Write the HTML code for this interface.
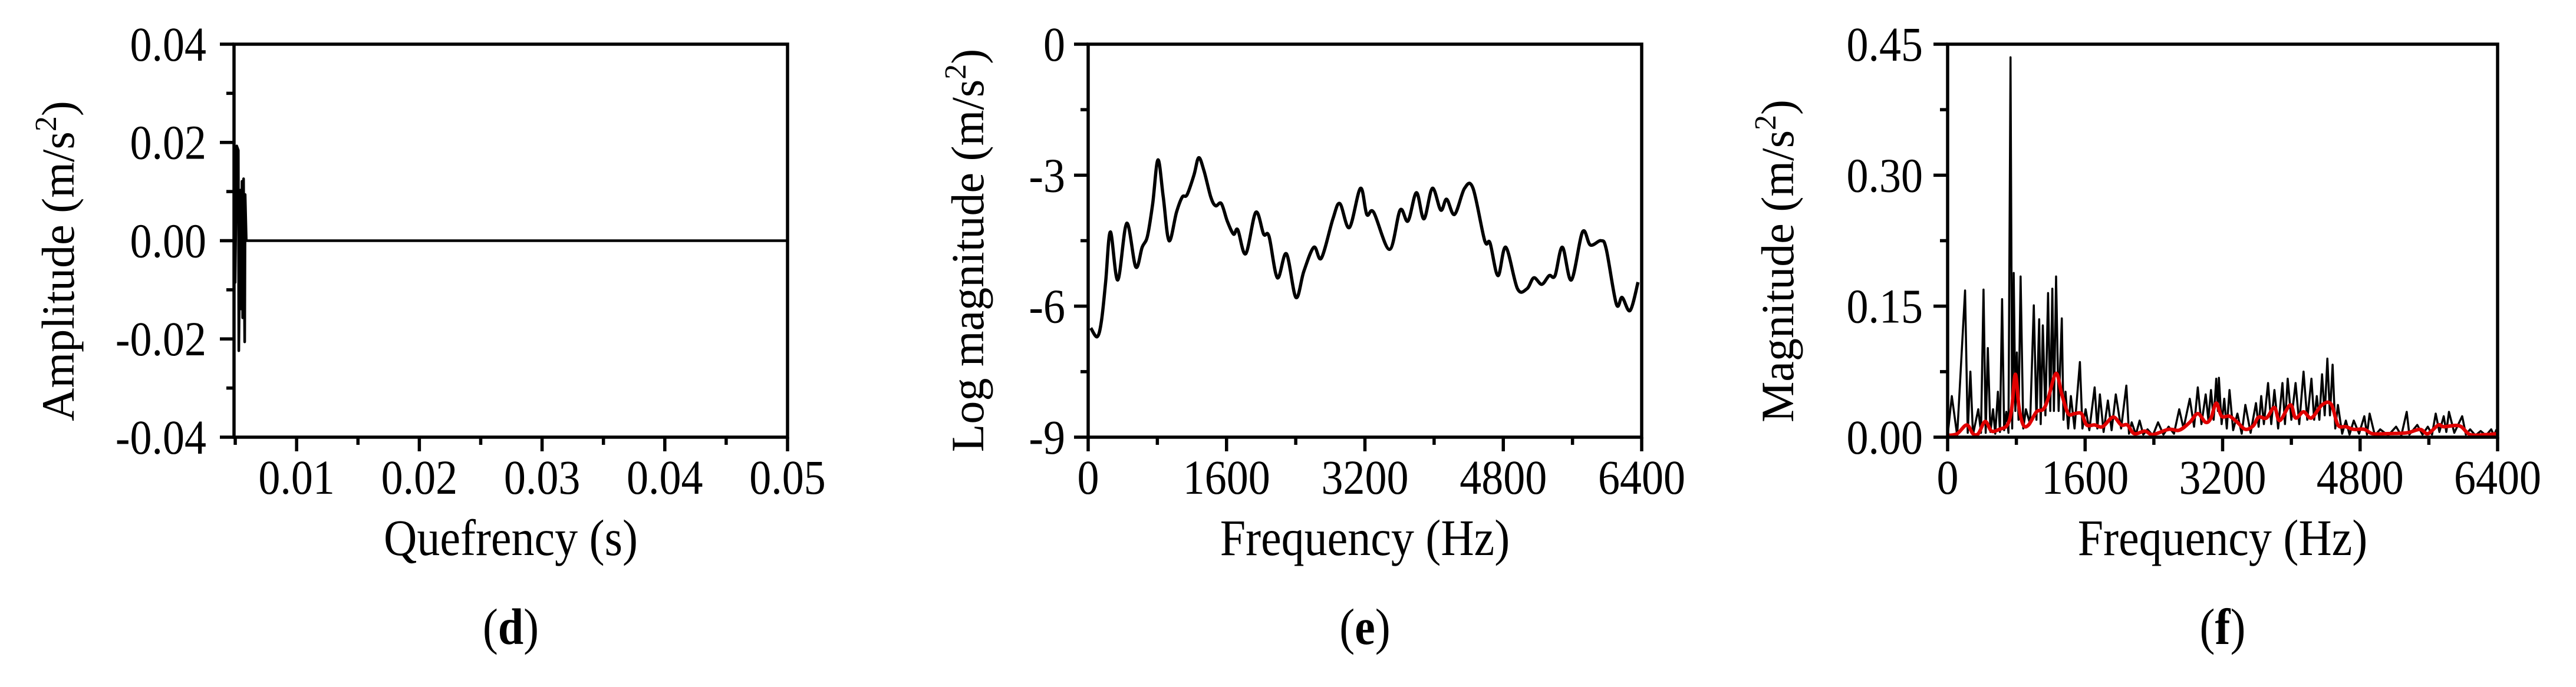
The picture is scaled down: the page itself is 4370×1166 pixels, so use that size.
<!DOCTYPE html>
<html><head><meta charset="utf-8"><style>
html,body{margin:0;padding:0;background:#fff;}
svg{display:block;}
text{font-family:"Liberation Serif",serif;fill:#000;}
</style></head><body>
<svg id="fig" width="4370" height="1166" viewBox="0 0 4370 1166" xmlns="http://www.w3.org/2000/svg"></svg>
<script>
// ---- Panel d data (quefrency s, amplitude) ----
const dQuef = [0.0049,0.00494,0.00499,0.00512,0.00525,0.00529,0.00542,0.00547,0.00555,0.0056,0.00568,0.00577,0.00581,0.0059,0.05];
const dAmp  = [0,0.0148,-0.0085,0.0193,0.0184,-0.0224,0.0103,-0.0139,0.0121,-0.0157,0.0126,-0.0206,0.0094,0,0];
const dXTicks = [0.01,0.02,0.03,0.04,0.05];
const dXTickLabels = ["0.01","0.02","0.03","0.04","0.05"];
const dYTicks = [0.04,0.02,0,-0.02,-0.04];
const dYTickLabels = ["0.04","0.02","0.00","-0.02","-0.04"];
// ---- Panel e data (Hz, log magnitude) ----
const eFreq = [31,104,153,202,257,342,446,550,624,685,746,807,868,935,1021,1088,1143,1223,1278,1339,1418,1473,1540,1608,1681,1730,1822,1938,2029,2091,2188,2292,2402,2494,2610,2696,2830,2910,3020,3148,3222,3301,3484,3607,3698,3796,3882,3980,4077,4145,4236,4352,4450,4585,4646,4738,4829,4964,5074,5153,5245,5330,5398,5483,5587,5716,5807,5930,5991,6107,6174,6266,6358];
const eLog = [-6.5,-6.7,-6.35,-5.45,-4.3,-5.4,-4.1,-5.1,-4.65,-4.4,-3.65,-2.65,-3.5,-4.5,-3.85,-3.5,-3.45,-3.0,-2.6,-2.9,-3.5,-3.7,-3.65,-4.05,-4.35,-4.25,-4.8,-3.85,-4.35,-4.4,-5.35,-4.8,-5.8,-5.2,-4.65,-4.9,-4.0,-3.65,-4.2,-3.3,-3.9,-3.85,-4.7,-3.8,-4.05,-3.4,-4.0,-3.3,-3.8,-3.55,-3.9,-3.3,-3.3,-4.5,-4.55,-5.3,-4.65,-5.6,-5.6,-5.35,-5.5,-5.3,-5.3,-4.65,-5.4,-4.3,-4.6,-4.5,-4.7,-5.95,-5.8,-6.1,-5.45];
const eXTicks = [0,1600,3200,4800,6400];
const eXTickLabels = ["0","1600","3200","4800","6400"];
const eYTicks = [0,-3,-6,-9];
const eYTickLabels = ["0","-3","-6","-9"];
// ---- Panel f data (Hz, magnitude) ----
const fFreq = [0,49,111,203,234,265,295,357,388,418,443,468,498,529,554,585,609,634,658,683,708,732,751,769,788,806,825,849,880,911,960,1003,1034,1065,1083,1108,1138,1169,1194,1218,1237,1262,1292,1329,1348,1372,1403,1434,1477,1539,1569,1606,1649,1711,1742,1772,1815,1865,1908,1957,2019,2080,2111,2142,2191,2234,2277,2326,2388,2449,2511,2572,2634,2695,2745,2818,2868,2911,2954,3003,3034,3065,3096,3126,3145,3157,3188,3219,3249,3280,3323,3372,3422,3465,3526,3588,3619,3649,3680,3729,3766,3803,3846,3896,3926,3957,4000,4049,4092,4142,4185,4234,4265,4296,4326,4357,4388,4419,4449,4480,4511,4542,4591,4634,4677,4726,4788,4849,4880,4911,4972,5034,5126,5219,5280,5342,5373,5465,5526,5588,5637,5680,5723,5773,5803,5834,5896,5988,6031,6080,6142,6203,6265,6326,6357,6388];
const fMag = [0.002,0.047,0.002,0.168,0.005,0.075,0.003,0.032,0.005,0.169,0.005,0.102,0.006,0.032,0.004,0.052,0.006,0.158,0.008,0.029,0.005,0.435,0.01,0.188,0.03,0.097,0.02,0.184,0.01,0.032,0.015,0.151,0.02,0.135,0.015,0.128,0.025,0.165,0.03,0.17,0.03,0.184,0.03,0.136,0.02,0.052,0.01,0.047,0.01,0.086,0.01,0.032,0.008,0.057,0.01,0.049,0.006,0.042,0.008,0.049,0.01,0.059,0.004,0.017,0.003,0.019,0.003,0.009,0.002,0.017,0.003,0.012,0.004,0.032,0.01,0.044,0.012,0.057,0.015,0.049,0.02,0.054,0.02,0.067,0.03,0.068,0.015,0.044,0.01,0.054,0.008,0.027,0.004,0.037,0.005,0.039,0.012,0.047,0.015,0.062,0.015,0.054,0.01,0.062,0.015,0.067,0.02,0.062,0.015,0.075,0.02,0.067,0.02,0.047,0.02,0.072,0.025,0.09,0.025,0.083,0.01,0.037,0.004,0.019,0.003,0.019,0.004,0.024,0.003,0.027,0.002,0.009,0.002,0.012,0.002,0.029,0.003,0.014,0.003,0.012,0.003,0.027,0.006,0.024,0.006,0.029,0.005,0.024,0.003,0.009,0.002,0.007,0.002,0.009,0.002,0.009];
const fSmoothFreq = [0,111,222,295,357,437,511,603,695,745,788,831,880,942,1034,1114,1169,1262,1329,1403,1477,1557,1618,1711,1803,1926,2019,2092,2172,2295,2388,2572,2695,2818,2911,3003,3065,3126,3188,3280,3372,3465,3557,3619,3711,3803,3865,3988,4049,4142,4234,4357,4462,4542,4634,4726,4849,4942,5096,5342,5496,5588,5711,5773,5957,6080,6265,6388];
const fSmoothMag = [0.002,0.004,0.014,0.004,0.004,0.018,0.007,0.009,0.014,0.032,0.072,0.034,0.014,0.014,0.029,0.032,0.044,0.073,0.049,0.027,0.027,0.027,0.014,0.014,0.012,0.023,0.014,0.014,0.004,0.007,0.003,0.009,0.008,0.017,0.027,0.017,0.022,0.039,0.024,0.024,0.017,0.009,0.013,0.023,0.022,0.034,0.019,0.037,0.022,0.029,0.022,0.037,0.038,0.014,0.012,0.009,0.009,0.004,0.004,0.005,0.009,0.004,0.014,0.012,0.013,0.003,0.003,0.004];
const fXTicks = [0,1600,3200,4800,6400];
const fXTickLabels = ["0","1600","3200","4800","6400"];
const fYTicks = [0,0.15,0.30,0.45];
const fYTickLabels = ["0.00","0.15","0.30","0.45"];

const NS = "http://www.w3.org/2000/svg";
const svg = document.getElementById('fig');
function mk(tag, attrs, parent){const e=document.createElementNS(NS,tag);for(const k in attrs)e.setAttribute(k,attrs[k]);(parent||svg).appendChild(e);return e;}
const TOP=75, BOT=742, SY=1.12, AW=5.5;
function stretch(y){return 'matrix(1,0,0,'+SY+',0,'+(-(SY-1)*y)+')';}

function panel(cfg){
  const g = mk('g',{});
  
  
  const xs = v => cfg.L + (v-cfg.x0)/(cfg.x1-cfg.x0)*(cfg.R-cfg.L);
  const ys = v => BOT - (v-cfg.y0)/(cfg.y1-cfg.y0)*(BOT-TOP);
  cfg.series.forEach(s=>{
    let d='';
    if(s.smooth){
      const P=s.x.map((v,i)=>[xs(v),ys(s.y[i])]);
      d='M'+P[0][0].toFixed(1)+' '+P[0][1].toFixed(1);
      for(let i=0;i<P.length-1;i++){
        const p0=P[Math.max(0,i-1)],p1=P[i],p2=P[i+1],p3=P[Math.min(P.length-1,i+2)];
        const c1=[p1[0]+(p2[0]-p0[0])/6,p1[1]+(p2[1]-p0[1])/6];
        const c2=[p2[0]-(p3[0]-p1[0])/6,p2[1]-(p3[1]-p1[1])/6];
        d+=' C'+c1[0].toFixed(1)+' '+c1[1].toFixed(1)+' '+c2[0].toFixed(1)+' '+c2[1].toFixed(1)+' '+p2[0].toFixed(1)+' '+p2[1].toFixed(1);
      }
    } else {
      d = s.x.map((v,i)=>(i?'L':'M')+xs(v).toFixed(1)+' '+ys(s.y[i]).toFixed(1)).join(' ');
    }
    const p = mk('path',{d:d,fill:'none',stroke:s.color,'stroke-width':s.w,'stroke-linejoin':'round'},g);
    
    
  });
  const fr = mk('rect',{x:cfg.L,y:TOP,width:cfg.R-cfg.L,height:BOT-TOP,fill:'none',stroke:'#000','stroke-width':AW},g);
  
  
  cfg.xMinor.forEach(v=>{ mk('line',{x1:xs(v),x2:xs(v),y1:BOT,y2:BOT+13,stroke:'#000','stroke-width':AW},g); });
  cfg.xTicks.forEach((v,i)=>{
    mk('line',{x1:xs(v),x2:xs(v),y1:BOT,y2:BOT+24,stroke:'#000','stroke-width':AW},g);
    const t = mk('text',{x:xs(v),y:838,'font-size':74,'text-anchor':'middle',transform:stretch(838)},g);
    t.textContent = cfg.xLabels[i];
    
    
  });
  cfg.yMinor.forEach(v=>{ mk('line',{x1:cfg.L-13,x2:cfg.L,y1:ys(v),y2:ys(v),stroke:'#000','stroke-width':AW},g); });
  cfg.yTicks.forEach((v,i)=>{
    mk('line',{x1:cfg.L-24,x2:cfg.L,y1:ys(v),y2:ys(v),stroke:'#000','stroke-width':AW},g);
    const by = ys(v)+28;
    const t = mk('text',{x:cfg.ylx,y:by,'font-size':74,'text-anchor':'end',transform:stretch(by)},g);
    t.textContent = cfg.yLabels[i];
    
    
  });
  const xt = mk('text',{x:(cfg.L+cfg.R)/2,y:942,'font-size':78,'text-anchor':'middle',transform:stretch(942)},g);
  xt.textContent = cfg.xTitle;
  
  
  const yt = mk('text',{x:0,y:0,'font-size':78,'text-anchor':'middle',transform:'translate('+cfg.ytx+' '+cfg.yty+') rotate(-90)'},g);
  
  
  yt.innerHTML = cfg.yTitle+' (m/s<tspan dy="-30" font-size="52">2</tspan><tspan dy="30">)</tspan>';
  const pl = mk('text',{x:(cfg.L+cfg.R)/2,y:1093,'font-size':78,'text-anchor':'middle',transform:stretch(1093)},g);
  pl.innerHTML = '(<tspan font-weight="bold">'+cfg.letter+'</tspan>)';
  
  
}

panel({name:'panel-d-cepstrum',L:397,R:1336,x0:0.0049,x1:0.05,y0:-0.04,y1:0.04,
  xTicks:dXTicks,xLabels:dXTickLabels,xMinor:[0.005,0.015,0.025,0.035,0.045],
  yTicks:dYTicks,yLabels:dYTickLabels,yMinor:[0.03,0.01,-0.01,-0.03],
  ylx:350,ytx:125,yty:443,xTitle:'Quefrency (s)',yTitle:'Amplitude',letter:'d',
  series:[{name:'cepstrum-line',x:dQuef,y:dAmp,color:'#000',w:4.5}]});
panel({name:'panel-e-log-spectrum',L:1846,R:2785,x0:0,x1:6400,y0:-9,y1:0,
  xTicks:eXTicks,xLabels:eXTickLabels,xMinor:[800,2400,4000,5600],
  yTicks:eYTicks,yLabels:eYTickLabels,yMinor:[-1.5,-4.5,-7.5],
  ylx:1807,ytx:1668,yty:425,xTitle:'Frequency (Hz)',yTitle:'Log magnitude',letter:'e',
  series:[{name:'log-magnitude-line',x:eFreq,y:eLog,color:'#000',w:5.5,smooth:true}]});
panel({name:'panel-f-spectrum',L:3304,R:4237,x0:0,x1:6400,y0:0,y1:0.45,
  xTicks:fXTicks,xLabels:fXTickLabels,xMinor:[800,2400,4000,5600],
  yTicks:fYTicks,yLabels:fYTickLabels,yMinor:[0.075,0.225,0.375],
  ylx:3262,ytx:3042,yty:443,xTitle:'Frequency (Hz)',yTitle:'Magnitude',letter:'f',
  series:[{name:'magnitude-spectrum-line',x:fFreq,y:fMag,color:'#000',w:3.5},
          {name:'smoothed-envelope-line',x:fSmoothFreq,y:fSmoothMag,color:'#e00000',w:6,smooth:true}]});
</script>
</body></html>
